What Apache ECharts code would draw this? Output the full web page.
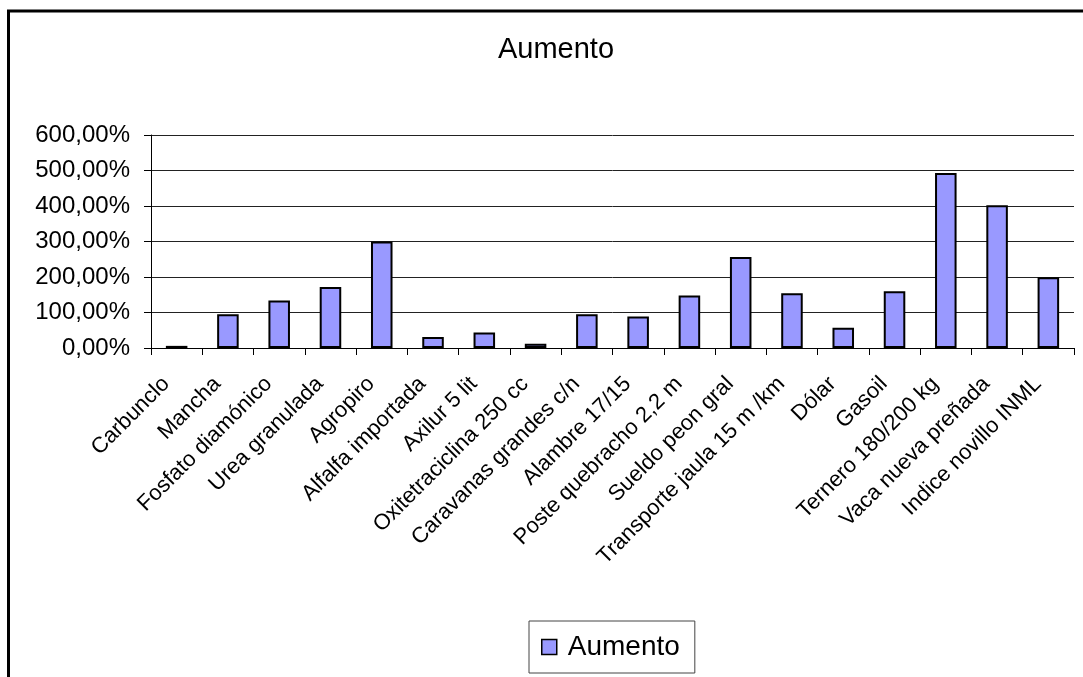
<!DOCTYPE html>
<html><head><meta charset="utf-8">
<script src="https://cdn.jsdelivr.net/npm/echarts@6/dist/echarts.min.js"></script>
<style>html,body{margin:0;padding:0;background:#fff}#c{width:1083px;height:677px}</style>
</head><body><div id="c"></div>
<script>
const categories = ["Carbunclo","Mancha","Fosfato diamónico","Urea granulada","Agropiro","Alfalfa importada","Axilur 5 lit","Oxitetraciclina 250 cc","Caravanas grandes c/n","Alambre 17/15","Poste quebracho 2,2 m","Sueldo peon gral","Transporte jaula 15 m /km","Dólar","Gasoil","Ternero 180/200 kg","Vaca nueva preñada","Indice novillo INML"];
const aumento = [6, 95, 134, 172, 300, 31, 44, 12, 95, 89, 148, 256, 154, 57, 160, 493, 402, 199];
const yTicks = [0, 100, 200, 300, 400, 500, 600];

const chart = echarts.init(document.getElementById('c'));
const font = 'Liberation Sans, Arial, sans-serif';
chart.setOption({
  animation: false,
  backgroundColor: '#fff',
  title: { text: 'Aumento', left: 551, textAlign: 'center', top: 30, textStyle: { fontFamily: font, fontSize: 29, fontWeight: 'normal', color: '#000' } },
  graphic: [{ type: 'rect', shape: { x: 8.5, y: 11, width: 1100, height: 700 }, style: { fill: 'none', stroke: '#000', lineWidth: 3 } }],
  legend: {
    bottom: 4, left: 529, icon: 'rect', itemWidth: 15, itemHeight: 15, padding: [12, 15, 12, 12],
    borderColor: '#444', borderWidth: 1,
    itemStyle: { color: '#9999ff', borderColor: '#000', borderWidth: 1.5 },
    textStyle: { fontFamily: font, fontSize: 28, color: '#000', padding: [0, 0, 0, 6] },
    data: ['Aumento']
  },
  grid: { left: 151, right: 9, top: 135, bottom: 329 },
  xAxis: {
    type: 'category', data: categories,
    axisLine: { lineStyle: { color: '#000', width: 1 } },
    axisTick: { show: true, alignWithLabel: false, length: 7, lineStyle: { color: '#000' } },
    axisLabel: { rotate: 45, interval: 0, fontFamily: font, fontSize: 22, color: '#000', margin: 22, padding: [0, 15, 0, 0] }
  },
  yAxis: {
    type: 'value', min: 0, max: 600, interval: 100,
    axisLine: { show: true, lineStyle: { color: '#000' } },
    axisTick: { show: true, length: 7, lineStyle: { color: '#000' } },
    splitLine: { lineStyle: { color: '#222', width: 1 } },
    axisLabel: { fontFamily: font, fontSize: 24, color: '#000', margin: 21,
      formatter: v => yTicks.includes(v) ? v.toFixed(2).replace('.', ',') + '%' : '' }
  },
  series: [{
    name: 'Aumento', type: 'bar', data: aumento, barWidth: '42%',
    itemStyle: { color: '#9999ff', borderColor: '#000', borderWidth: 2 }
  }]
});
</script></body></html>
